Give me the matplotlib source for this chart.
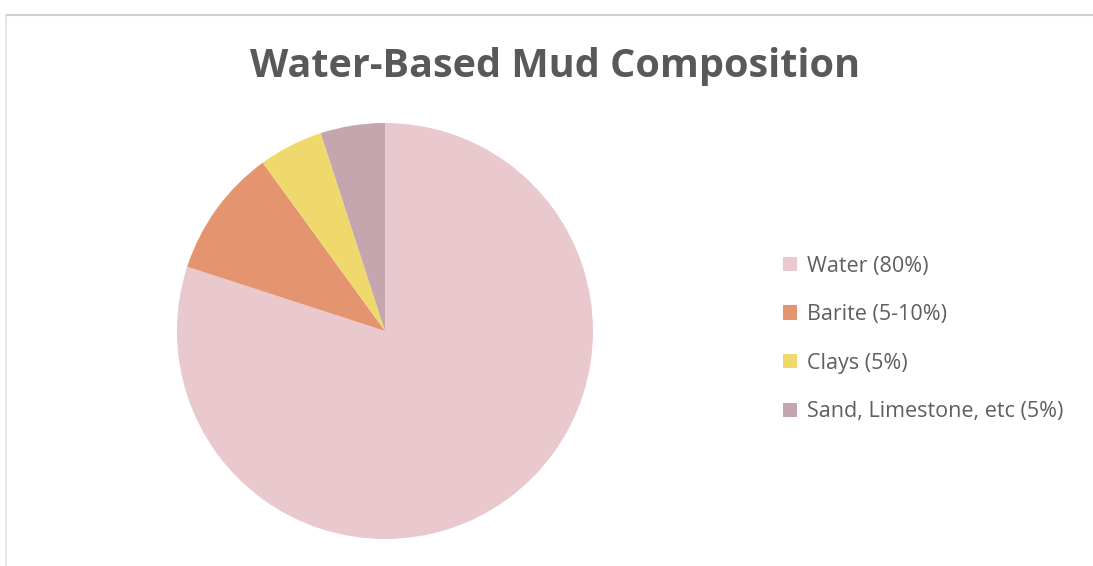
import matplotlib.pyplot as plt
from matplotlib.lines import Line2D

# Composition of a typical water-based drilling mud
labels = ['Water (80%)', 'Barite (5-10%)', 'Clays (5%)', 'Sand, Limestone, etc (5%)']
shares = [80, 10, 5, 5]
colors = ['#E9C8CE', '#E4946F', '#EFD86C', '#C5A5AE']

W, H = 1093, 566
fig = plt.figure(figsize=(W / 100, H / 100), dpi=100)
fig.patch.set_facecolor('white')

# Grey edge along the top and left of the chart area
fig.add_artist(Line2D([6 / W, 1.0], [1 - 15 / H, 1 - 15 / H],
                      transform=fig.transFigure, color='#CFCFCF', linewidth=1.5))
fig.add_artist(Line2D([6 / W, 6 / W], [0.0, 1 - 15 / H],
                      transform=fig.transFigure, color='#E2E2E2', linewidth=1.2))

ax = fig.add_axes([177 / W, 27 / H, 416 / W, 416 / H])
wedges, _ = ax.pie(shares, colors=colors, startangle=90, counterclock=False,
                   radius=1.0, wedgeprops=dict(linewidth=0))
ax.set_xlim(-1, 1)
ax.set_ylim(-1, 1)
ax.set_aspect('equal')
ax.axis('off')

fig.text(555 / W, 1 - 67 / H, 'Water-Based Mud Composition',
         ha='center', va='center', fontsize=28.5, fontweight='bold',
         color='#595959', family='Open Sans')

fig.legend(wedges, labels, loc='center left',
           bbox_to_anchor=(764 / W, 1 - 339 / H), frameon=False,
           prop=dict(family='Open Sans', size=15.5), labelcolor='#5F5F5F',
           handlelength=0.65, handleheight=0.65, handletextpad=0.45,
           labelspacing=1.28)

plt.savefig('out.png', dpi=100)
